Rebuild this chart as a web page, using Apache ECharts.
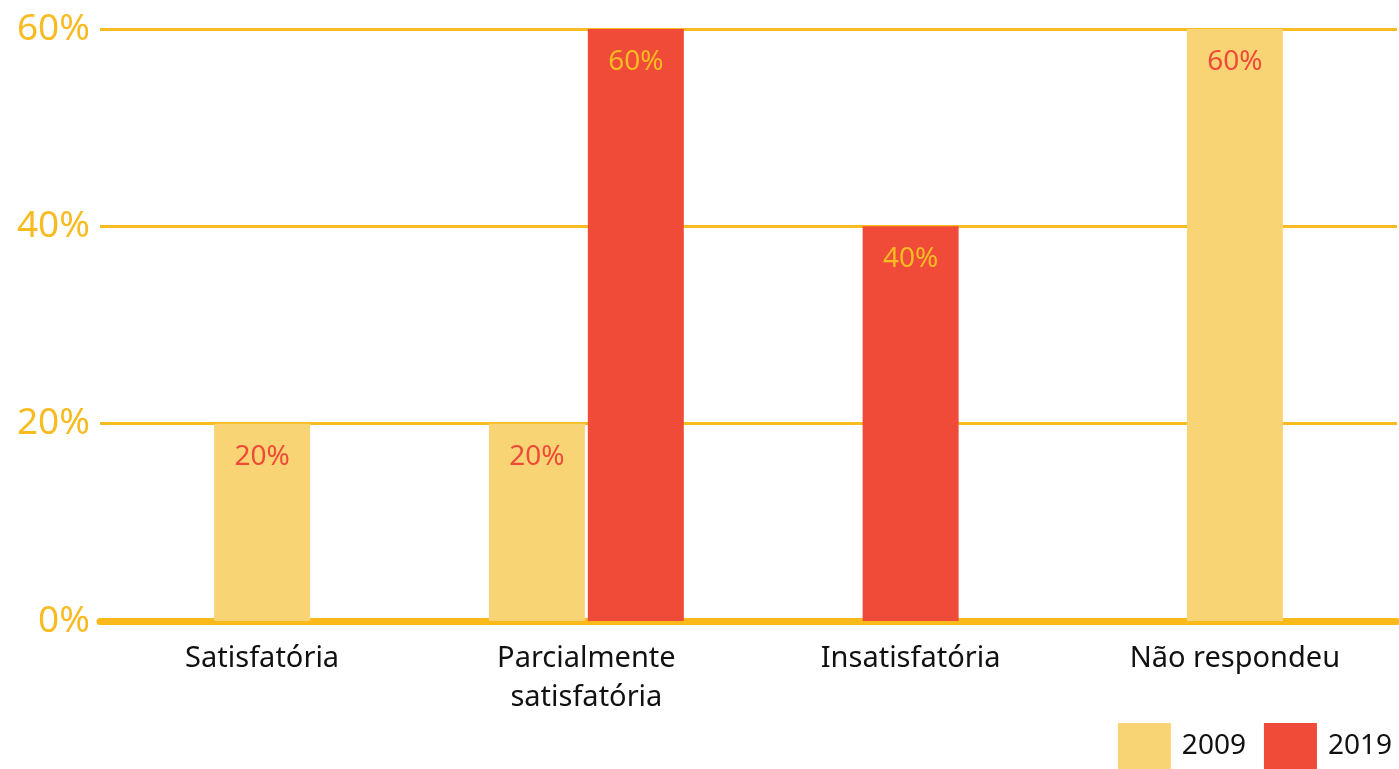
<!DOCTYPE html>
<html>
<head>
<meta charset="utf-8">
<script src="https://cdn.jsdelivr.net/npm/echarts@6/dist/echarts.min.js"></script>
<style>
  html, body { margin: 0; padding: 0; background: #fff; }
  #chart { width: 1399px; height: 769px; }
</style>
</head>
<body>
<div id="chart"></div>
<script>
const categories = ['Satisfatória', 'Parcialmente\nsatisfatória', 'Insatisfatória', 'Não respondeu'];
const years = ['2009', '2019'];
const values2009 = [20, 20, null, 60];
const values2019 = [null, 60, 40, null];
const yTicks = [0, 20, 40, 60];

const yellow = '#F9D475';
const red = '#EF4B38';
const gold = '#F8BB22';
const font = 'Noto Sans';

// categories with both years get side-by-side bars, the others a single centered bar
const pair2009 = [], pair2019 = [], single = [];
for (let i = 0; i < categories.length; i++) {
    const a = values2009[i], b = values2019[i];
    if (a != null && b != null) {
        pair2009.push(a);
        pair2019.push(b);
        single.push(null);
    } else {
        pair2009.push(null);
        pair2019.push(null);
        if (a != null) {
            single.push({ value: a, itemStyle: { color: yellow }, label: { color: red } });
        } else if (b != null) {
            single.push({ value: b, itemStyle: { color: red }, label: { color: gold } });
        } else {
            single.push(null);
        }
    }
}

const barLabel = {
    show: true,
    position: 'insideTop',
    distance: 19,
    fontFamily: font,
    fontSize: 28,
    formatter: '{c}%'
};

const chart = echarts.init(document.getElementById('chart'));
chart.setOption({
    animation: false,
    grid: { left: 100, right: 2, top: 29, bottom: 148 },
    legend: {
        data: years,
        right: 2,
        bottom: -5,
        icon: 'rect',
        itemWidth: 53,
        itemHeight: 46,
        itemGap: 18,
        textStyle: { fontFamily: font, fontSize: 28, color: '#111', padding: [0, 0, 0, 6] }
    },
    xAxis: [{
        type: 'category',
        data: categories,
        axisLine: { show: true, lineStyle: { color: '#FBBA1B', width: 7 } },
        axisTick: { show: false },
        axisLabel: { fontFamily: font, fontSize: 29, color: '#111', margin: 18, lineHeight: 39, interval: 0 }
    }, {
        type: 'category',
        data: categories,
        show: false
    }],
    yAxis: {
        type: 'value',
        min: yTicks[0],
        max: yTicks[yTicks.length - 1],
        interval: 20,
        axisLine: { show: false },
        axisTick: { show: false },
        axisLabel: { formatter: '{value}%', fontFamily: font, fontSize: 37, color: gold, margin: 10 },
        splitLine: { lineStyle: { color: gold, width: 3 } }
    },
    series: [{
        name: '2009',
        type: 'bar',
        xAxisIndex: 0,
        data: pair2009,
        barWidth: 96,
        barGap: '3%',
        itemStyle: { color: yellow },
        label: Object.assign({}, barLabel, { color: red })
    }, {
        name: '2019',
        type: 'bar',
        xAxisIndex: 0,
        data: pair2019,
        barWidth: 96,
        barGap: '3%',
        itemStyle: { color: red },
        label: Object.assign({}, barLabel, { color: gold })
    }, {
        name: 'single',
        type: 'bar',
        xAxisIndex: 1,
        data: single,
        barWidth: 96,
        label: barLabel
    }]
});
</script>
</body>
</html>
